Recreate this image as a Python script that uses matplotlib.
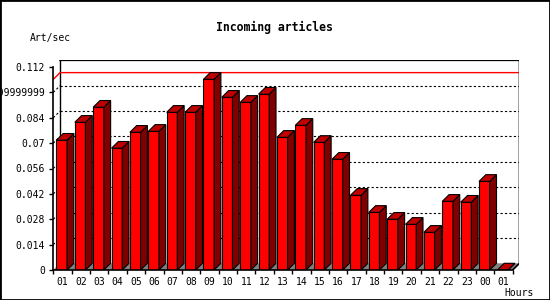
import matplotlib
matplotlib.use("Agg")
import matplotlib.pyplot as plt
from matplotlib.patches import Polygon, Rectangle

hours = ["01", "02", "03", "04", "05", "06", "07", "08", "09", "10", "11", "12",
         "13", "14", "15", "16", "17", "18", "19", "20", "21", "22", "23", "00", "01"]
rate = [0.0716, 0.0815, 0.0898, 0.0672, 0.0760, 0.0765, 0.0870, 0.0870, 0.1052,
        0.0953, 0.0925, 0.0970, 0.0732, 0.0798, 0.0704, 0.0611, 0.0412, 0.0318,
        0.0280, 0.0252, 0.0208, 0.0379, 0.0374, 0.0489, 0.0]
yticks = [0, 0.014, 0.028, 0.042, 0.056, 0.07, 0.084, 0.098, 0.112]
ylabels = ["0", "0.014", "0.028", "0.042", "0.056", "0.07", "0.084", "0.09999999", "0.112"]

mono = "DejaVu Sans Mono"
W, H = 550, 300
px_x = 18.375          # pixels per category
px_y = 1812.5          # pixels per unit
dx = 6.8 / px_x        # 3d depth in data units
dy = 6.7 / px_y
n = len(hours)
ytop = yticks[-1]

fig = plt.figure(figsize=(W / 100, H / 100), dpi=100)
left = 53.3
ax_w = n * px_x + 6.8
ax_h = (ytop + dy) * px_y
ax = fig.add_axes([left / W, 30 / H, ax_w / W, ax_h / H])
ax.set_xlim(-0.5, n - 0.5 + dx)
ax.set_ylim(0, ytop + dy)

lw = 0.8
# floor
ax.add_patch(Polygon([(-0.5, 0), (n - 0.5, 0), (n - 0.5 + dx, dy), (-0.5 + dx, dy)],
                     closed=True, fc="#808080", ec="none", zorder=1))
# grid on back wall and left wall
for v in yticks[1:-1]:
    ax.plot([-0.5 + dx, n - 0.5 + dx], [v + dy, v + dy], color="black", lw=lw,
            ls=(0, (2, 2)), zorder=1)
    ax.plot([-0.5, -0.5 + dx], [v, v + dy], color="black", lw=lw, ls=(0, (2, 2)), zorder=1)
# back wall frame
ax.plot([-0.5 + dx, n - 0.5 + dx, n - 0.5 + dx, n - 0.5],
        [ytop + dy, ytop + dy, dy, 0], color="black", lw=1.2, zorder=1)
ax.plot([-0.5 + dx, -0.5 + dx], [dy, ytop + dy], color="black", lw=1.0, zorder=1)
# max line
m = max(rate)
ax.plot([-0.5, -0.5 + dx, n - 0.5 + dx], [m, m + dy, m + dy], color="#ff0000", lw=1.0, zorder=1.5)

off, w = 0.17, 0.58
for i, v in enumerate(rate):
    x0 = i - 0.5 + off
    ax.bar(x0, v, width=w, align="edge", color="#ff0000", edgecolor="black", lw=lw, zorder=3)
    ax.add_patch(Polygon([(x0 + w, 0), (x0 + w + dx, dy), (x0 + w + dx, v + dy), (x0 + w, v)],
                         closed=True, fc="#800000", ec="black", lw=lw, zorder=3))
    ax.add_patch(Polygon([(x0, v), (x0 + w, v), (x0 + w + dx, v + dy), (x0 + dx, v + dy)],
                         closed=True, fc="#c00000", ec="black", lw=lw, zorder=3))

for s in ["top", "right"]:
    ax.spines[s].set_visible(False)
ax.spines["left"].set_bounds(0, ytop)
ax.spines["bottom"].set_bounds(-0.5, n - 0.5)
for s in ["left", "bottom"]:
    ax.spines[s].set_linewidth(1.2)
    ax.spines[s].set_zorder(4)

ax.set_yticks(yticks)
ax.set_yticklabels(ylabels, family=mono, fontsize=7)
ax.tick_params(axis="y", length=3, width=1, pad=3)
ax.set_xticks(range(n))
ax.set_xticklabels(hours, family=mono, fontsize=7)
ax.set_xticks([i - 0.5 for i in range(n + 1)], minor=True)
ax.tick_params(axis="x", which="major", length=0, pad=5)
ax.tick_params(axis="x", which="minor", length=3, width=1)
ax.patch.set_visible(False)

fig.text(274 / W, 1 - 27 / H, "Incoming articles", family=mono, fontsize=8.3,
         fontweight="bold", ha="center", va="center")
fig.text(30 / W, 1 - 37.5 / H, "Art/sec", family=mono, fontsize=7, ha="left", va="center")
fig.text(504 / W, 1 - 292.5 / H, "Hours", family=mono, fontsize=7, ha="left", va="center")
fig.patches.append(Rectangle((0, 0), 1, 1, transform=fig.transFigure, fill=False,
                             ec="black", lw=2))

fig.savefig("out.png", dpi=100)
